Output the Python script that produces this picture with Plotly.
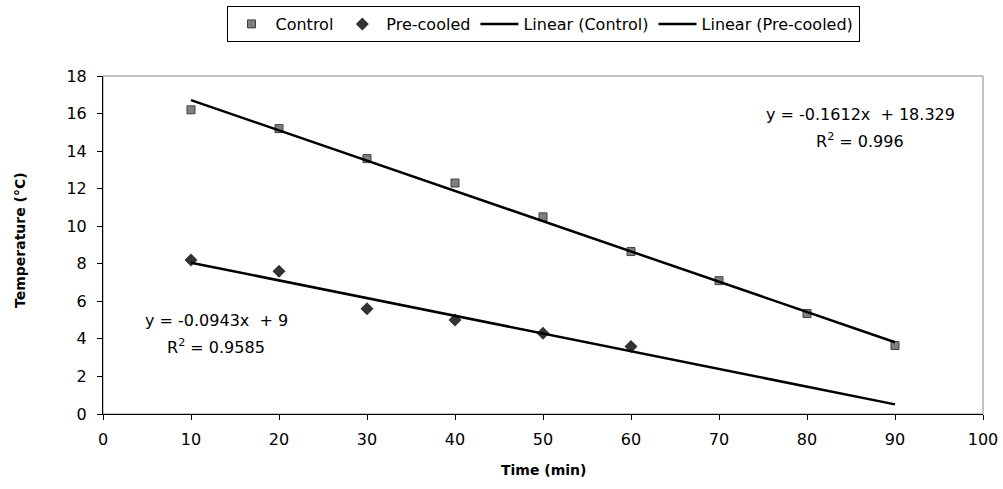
import plotly.graph_objects as go

time_control = [10, 20, 30, 40, 50, 60, 70, 80, 90]
temp_control = [16.2, 15.2, 13.6, 12.3, 10.5, 8.65, 7.1, 5.35, 3.65]
time_precooled = [10, 20, 30, 40, 50, 60]
temp_precooled = [8.2, 7.6, 5.6, 5.0, 4.3, 3.6]

# trendline coefficients as shown on chart
fit_control = (-0.1612, 18.329)
fit_precooled = (-0.0943, 9.0)
trend_x = [10, 90]

eq_control = ["y = -0.1612x  + 18.329", "R<sup>2</sup> = 0.996"]
eq_precooled = ["y = -0.0943x  + 9", "R<sup>2</sup> = 0.9585"]

FONT = "DejaVu Sans, Liberation Sans, Arial, sans-serif"
FONT_B = "DejaVu Sans, Liberation Sans, Arial, sans-serif"

L, R, T, B = 103, 20, 76, 75
W, H = 1003, 489
PW, PH = W - L - R, H - T - B


def px_x(x):
    return (x - L) / PW


def px_y(y):
    return 1 - (y - T) / PH


fig = go.Figure()
fig.add_trace(go.Scatter(
    x=time_control, y=temp_control, mode="markers", name="Control",
    marker=dict(symbol="square", size=8, color="#808080",
                line=dict(color="#404040", width=1))))
fig.add_trace(go.Scatter(
    x=time_precooled, y=temp_precooled, mode="markers", name="Pre-cooled",
    marker=dict(symbol="diamond", size=10, color="#333333",
                line=dict(color="#333333", width=0))))
fig.add_trace(go.Scatter(
    x=trend_x, y=[fit_control[0] * t + fit_control[1] for t in trend_x],
    mode="lines", name="Linear (Control)",
    line=dict(color="black", width=2.5)))
fig.add_trace(go.Scatter(
    x=trend_x, y=[fit_precooled[0] * t + fit_precooled[1] for t in trend_x],
    mode="lines", name="Linear (Pre-cooled)",
    line=dict(color="black", width=2.5)))

ann = []
for (xp, yp, txt) in [(860, 114, eq_control[0]), (860, 140, eq_control[1]),
                      (216, 320, eq_precooled[0]), (216, 346, eq_precooled[1])]:
    ann.append(dict(x=px_x(xp), y=px_y(yp), xref="paper", yref="paper",
                    text=txt, showarrow=False, xanchor="center",
                    yanchor="middle",
                    font=dict(family=FONT, size=16, color="black")))

# axis titles
ann.append(dict(x=px_x(20), y=px_y(240), xref="paper", yref="paper",
                text="<b>Temperature (°C)</b>", textangle=-90,
                showarrow=False, xanchor="center", yanchor="middle",
                font=dict(family=FONT_B, size=14, color="black")))
ann.append(dict(x=px_x(543), y=px_y(470), xref="paper", yref="paper",
                text="<b>Time (min)</b>", showarrow=False,
                xanchor="center", yanchor="middle",
                font=dict(family=FONT_B, size=14, color="black")))

fig.update_layout(
    width=W, height=H,
    margin=dict(l=L, r=R, t=T, b=B, autoexpand=False),
    paper_bgcolor="white", plot_bgcolor="white",
    font=dict(family=FONT, size=16, color="black"),
    showlegend=True,
    legend=dict(orientation="h", x=0.5, xanchor="center", y=px_y(6),
                yanchor="top", bordercolor="black", borderwidth=1,
                font=dict(family=FONT, size=16, color="black"),
                itemwidth=38, tracegroupgap=0),
    annotations=ann,
    shapes=[dict(type="rect", xref="paper", yref="paper", x0=0, y0=0,
                 x1=1, y1=1, line=dict(color="#888888", width=1),
                 layer="below")],
    xaxis=dict(range=[0, 100], dtick=10, showgrid=False, zeroline=False,
               showline=True, linecolor="black", linewidth=1,
               ticks="outside", ticklen=5, tickcolor="black",
               ticklabelstandoff=6, automargin=False,
               tickfont=dict(family=FONT, size=16)),
    yaxis=dict(range=[0, 18], dtick=2, showgrid=False, zeroline=False,
               showline=True, linecolor="black", linewidth=1,
               ticks="outside", ticklen=5, tickcolor="black",
               ticklabelstandoff=7, automargin=False,
               tickfont=dict(family=FONT, size=16)),
)

fig.write_html("out.html")
